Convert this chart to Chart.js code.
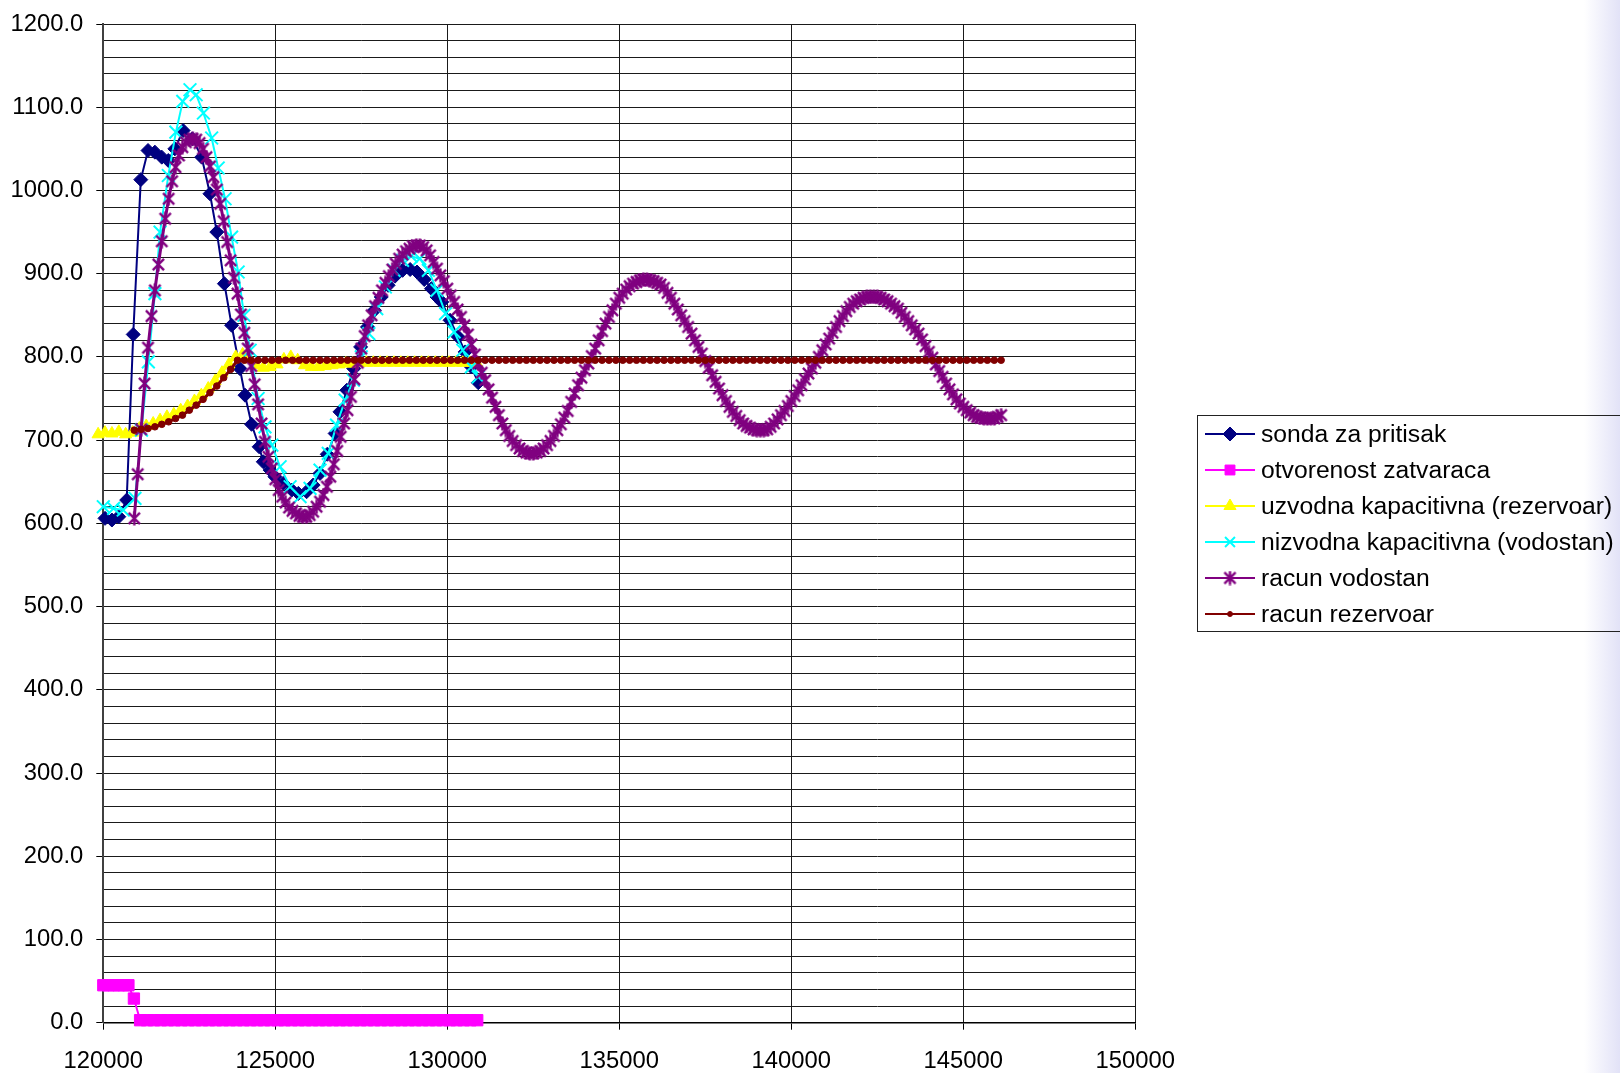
<!DOCTYPE html>
<html>
<head>
<meta charset="utf-8">
<script src="https://cdn.jsdelivr.net/npm/chart.js@4.4.1/dist/chart.umd.min.js"></script>
<style>
html, body { margin: 0; padding: 0; }
body {
  width: 1620px; height: 1073px; overflow: hidden;
  background: linear-gradient(to right, #ffffff 0, #ffffff 1584px, #e2e2f7 1620px);
}
canvas { display: block; }
</style>
</head>
<body>
<canvas id="c" width="1620" height="1073"></canvas>
<script>
// ---- measured series (time, value) ----
const sondaT = [120050,120250,120450,120680,120870,121090,121300,121500,121700,121890,
  122080,122320,122590,122860,123100,123300,123520,123730,123970,124120,
  124310,124530,124650,124850,124990,125230,125480,125670,125910,126100,
  126300,126510,126740,126880,127080,127280,127480,127680,127880,128080,
  128280,128480,128700,128920,129120,129330,129540,129700,129840,130080,
  130320,130520,130700,130900];
const sondaV = [606,604,608,628,827,1013,1048,1046,1040,1036,
  1050,1072,1062,1040,996,950,888,838,786,754,
  719,692,674,664,656,648,640,636,638,646,
  660,683,708,734,760,786,812,836,856,872,
  886,897,904,905,902,893,882,872,866,844,
  824,806,788,769];

const zatvT = [120000,120150,120300,120450,120600,120730,120890,
  121070,121270,121470,121670,121870,122070,122270,122470,122670,122870,
  123070,123270,123470,123670,123870,124070,124270,124470,124670,124870,
  125070,125270,125470,125670,125870,126070,126270,126470,126670,126870,
  127070,127270,127470,127670,127870,128070,128270,128470,128670,128870,
  129070,129270,129470,129670,129870,130070,130270,130470,130670,130870];
const zatvV = [45,45,45,45,45,45,29,
  3,3,3,3,3,3,3,3,3,3,
  3,3,3,3,3,3,3,3,3,3,
  3,3,3,3,3,3,3,3,3,3,
  3,3,3,3,3,3,3,3,3,3,
  3,3,3,3,3,3,3,3,3,3];

const uzvT = [119850,120050,120250,120450,120650,120850,121050,121250,121450,121650,
  121850,122050,122250,122450,122650,122850,123050,123250,123450,123650,
  123850,124050,124250,124450,124650,124850,125050,125250,125450,125650,
  125850,126050,126250,126450,126650,126850,127050,127250,127450,127650,
  127850,128050,128250,128450,128650,128850,129050,129250,129450,129650,
  129850,130050,130250,130450,130650,130850];
const uzvV = [707,709,708,710,707,709,714,717,720,724,
  728,731,736,741,747,754,762,771,781,791,
  800,803,797,790,787,788,791,797,800,796,
  790,788,788,789,790,791,792,792,793,793,
  793,793,793,793,793,793,793,793,793,793,
  793,793,793,793,793,793];

const nizT = [120000,120300,120580,120920,121110,121310,121500,121650,121890,122110,
  122310,122520,122700,122910,123150,123340,123540,123730,123920,124090,
  124270,124500,124700,124900,125140,125430,125720,126010,126300,126540,
  126780,127030,127270,127500,127720,127950,128200,128450,128700,128950,
  129200,129450,129700,129950,130200,130450,130700,130900];
const nizV = [620,618,616,630,712,794,876,950,1018,1070,
  1107,1121,1115,1093,1063,1027,990,944,902,850,
  808,750,716,694,668,644,632,642,664,684,
  718,748,772,800,828,858,884,904,916,921,
  918,904,880,852,830,808,788,776];

const racVodT = [
  120900,121000,121100,121200,121300,121400,121500,121600,121700,121800,
  121900,122000,122100,122200,122300,122400,122500,122600,122700,122800,
  122900,123000,123100,123200,123300,123400,123500,123600,123700,123800,
  123900,124000,124100,124200,124300,124400,124500,124600,124700,124800,
  124900,125000,125100,125200,125300,125400,125500,125600,125700,125800,
  125900,126000,126100,126200,126300,126400,126500,126600,126700,126800,
  126900,127000,127100,127200,127300,127400,127500,127600,127700,127800,
  127900,128000,128100,128200,128300,128400,128500,128600,128700,128800,
  128900,129000,129100,129200,129300,129400,129500,129600,129700,129800,
  129900,130000,130100,130200,130300,130400,130500,130600,130700,130800,
  130900,131000,131100,131200,131300,131400,131500,131600,131700,131800,
  131900,132000,132100,132200,132300,132400,132500,132600,132700,132800,
  132900,133000,133100,133200,133300,133400,133500,133600,133700,133800,
  133900,134000,134100,134200,134300,134400,134500,134600,134700,134800,
  134900,135000,135100,135200,135300,135400,135500,135600,135700,135800,
  135900,136000,136100,136200,136300,136400,136500,136600,136700,136800,
  136900,137000,137100,137200,137300,137400,137500,137600,137700,137800,
  137900,138000,138100,138200,138300,138400,138500,138600,138700,138800,
  138900,139000,139100,139200,139300,139400,139500,139600,139700,139800,
  139900,140000,140100,140200,140300,140400,140500,140600,140700,140800,
  140900,141000,141100,141200,141300,141400,141500,141600,141700,141800,
  141900,142000,142100,142200,142300,142400,142500,142600,142700,142800,
  142900,143000,143100,143200,143300,143400,143500,143600,143700,143800,
  143900,144000,144100,144200,144300,144400,144500,144600,144700,144800,
  144900,145000,145100,145200,145300,145400,145500,145600,145700,145800,
  145900,146000,146100];
const racVodV = [
  606,659,713,768,811,849,880,911,939,966,
  990,1011,1028,1042,1052,1058,1061,1062,1061,1057,
  1050,1040,1029,1016,1001,984,963,938,916,895,
  876,851,829,810,789,767,743,720,698,680,
  666,653,640,632,625,619,615,612,609,608,
  608,610,614,620,626,634,644,656,671,687,
  704,720,736,752,773,793,810,825,838,850,
  861,871,880,889,897,905,912,918,923,927,
  930,933,934,934,932,928,922,914,906,898,
  891,882,874,866,857,848,838,827,815,803,
  792,781,772,761,751,740,730,720,712,705,
  699,694,690,687,685,684,684,685,687,690,
  694,699,705,712,719,727,735,746,756,766,
  775,784,792,801,810,820,831,840,848,856,
  864,871,876,881,885,888,890,892,893,893,
  892,891,889,887,883,877,871,864,857,850,
  843,836,828,820,812,804,795,787,778,770,
  762,754,747,740,734,729,724,720,717,715,
  713,712,712,712,713,716,720,725,730,735,
  741,747,753,760,766,773,780,786,793,800,
  808,815,822,829,836,843,849,855,860,864,
  867,869,871,872,872,872,872,871,869,867,
  864,861,858,853,848,843,838,833,828,821,
  813,806,799,791,783,776,768,761,755,749,
  744,740,736,733,730,728,727,726,726,726,
  726,728,730];

const racRezT = [120900,121100,121300,121500,121700,121900,122100,122300,122500,122700,
  122900,123100,123300,123500,123700,123900,124100,124300,124500,124700,
  124900,125100,125300,125500,125700,125900,126100,126300,126500,126700,
  126900,127100,127300,127500,127700,127900,128100,128300,128500,128700,
  128900,129100,129300,129500,129700,129900,130100,130300,130500,130700,
  130900,131100,131300,131500,131700,131900,132100,132300,132500,132700,
  132900,133100,133300,133500,133700,133900,134100,134300,134500,134700,
  134900,135100,135300,135500,135700,135900,136100,136300,136500,136700,
  136900,137100,137300,137500,137700,137900,138100,138300,138500,138700,
  138900,139100,139300,139500,139700,139900,140100,140300,140500,140700,
  140900,141100,141300,141500,141700,141900,142100,142300,142500,142700,
  142900,143100,143300,143500,143700,143900,144100,144300,144500,144700,
  144900,145100,145300,145500,145700,145900,146100];
const racRezV = [712,713,714,716,719,722,726,730,736,742,
  749,757,765,775,785,796,796,796,796,796,
  796,796,796,796,796,796,796,796,796,796,
  796,796,796,796,796,796,796,796,796,796,
  796,796,796,796,796,796,796,796,796,796,
  796,796,796,796,796,796,796,796,796,796,
  796,796,796,796,796,796,796,796,796,796,
  796,796,796,796,796,796,796,796,796,796,
  796,796,796,796,796,796,796,796,796,796,
  796,796,796,796,796,796,796,796,796,796,
  796,796,796,796,796,796,796,796,796,796,
  796,796,796,796,796,796,796,796,796,796,
  796,796,796,796,796,796,796];

const xTickStep = 5000;
const yMajorStep = 100;
const yMinorStep = 20;

const FONT = '"Liberation Sans", Arial, sans-serif';

function pairs(ts, vs) { return ts.map((t, i) => ({ x: t, y: vs[i] })); }

// asterisk marker: an "x" with a vertical stroke through it
function asteriskMarker(color, size, lw) {
  const c = document.createElement('canvas');
  c.width = size; c.height = size;
  const g = c.getContext('2d');
  g.strokeStyle = color; g.lineWidth = lw;
  const m = size / 2, r = size / 2 - 0.5, d = r * 0.8;
  g.beginPath();
  g.moveTo(m, m - r); g.lineTo(m, m + r);
  g.moveTo(m - d, m - d); g.lineTo(m + d, m + d);
  g.moveTo(m + d, m - d); g.lineTo(m - d, m + d);
  g.stroke();
  return c;
}

const starImg = asteriskMarker('#800080', 15, 2.4);

const datasets = [
  { label: 'sonda za pritisak', data: pairs(sondaT, sondaV), borderColor: '#000080', borderWidth: 2,
    pointStyle: 'rectRot', pointRadius: 7, pointBackgroundColor: '#000080', pointBorderColor: '#000080', pointBorderWidth: 1, order: 5 },
  { label: 'otvorenost zatvaraca', data: pairs(zatvT, zatvV), borderColor: '#FF00FF', borderWidth: 2,
    pointStyle: 'rect', pointRadius: 8, pointBackgroundColor: '#FF00FF', pointBorderColor: '#FF00FF', pointBorderWidth: 1, order: 4 },
  { label: 'uzvodna kapacitivna (rezervoar)', data: pairs(uzvT, uzvV), borderColor: '#FFFF00', borderWidth: 2,
    pointStyle: 'triangle', pointRadius: 7, pointBackgroundColor: '#FFFF00', pointBorderColor: '#FFFF00', pointBorderWidth: 1, order: 3 },
  { label: 'nizvodna kapacitivna (vodostan)', data: pairs(nizT, nizV), borderColor: '#00FFFF', borderWidth: 2,
    pointStyle: 'crossRot', pointRadius: 9, pointBackgroundColor: '#00FFFF', pointBorderColor: '#00FFFF', pointBorderWidth: 2, order: 2 },
  { label: 'racun vodostan', data: pairs(racVodT, racVodV), borderColor: '#800080', borderWidth: 3,
    pointStyle: starImg, pointRadius: 7, pointBackgroundColor: '#800080', pointBorderColor: '#800080', pointBorderWidth: 2, order: 1 },
  { label: 'racun rezervoar', data: pairs(racRezT, racRezV), borderColor: '#800000', borderWidth: 3,
    pointStyle: 'circle', pointRadius: 3.3, pointBackgroundColor: '#800000', pointBorderColor: '#800000', pointBorderWidth: 1, order: 0 }
];
datasets.forEach(d => { d.clip = false; d.tension = 0; d.fill = false; d.pointHoverRadius = d.pointRadius; });

// boxed series key to the right of the plot
const seriesKey = {
  id: 'seriesKey',
  afterDraw(chart) {
    const ctx = chart.ctx;
    ctx.save();
    ctx.strokeStyle = '#222';
    ctx.lineWidth = 1;
    ctx.strokeRect(1197.5, 415.5, 460, 216);
    chart.data.datasets.forEach((ds, i) => {
      const y = 434 + i * 36;
      ctx.strokeStyle = ds.borderColor;
      ctx.lineWidth = 2;
      ctx.beginPath(); ctx.moveTo(1205, y); ctx.lineTo(1255, y); ctx.stroke();
      ctx.fillStyle = ds.pointBackgroundColor;
      ctx.strokeStyle = ds.pointBorderColor;
      ctx.lineWidth = ds.pointBorderWidth;
      const r = ds.pointStyle === 'circle' ? 2.5 : Math.min(ds.pointRadius, 7);
      if (Chart.helpers && Chart.helpers.drawPoint) {
        Chart.helpers.drawPoint(ctx, { pointStyle: ds.pointStyle, radius: r, borderWidth: ds.pointBorderWidth, rotation: 0 }, 1230, y);
      } else {
        ctx.beginPath(); ctx.arc(1230, y, r, 0, Math.PI * 2); ctx.fill();
      }
      ctx.fillStyle = '#000';
      ctx.font = '24.7px ' + FONT;
      ctx.textBaseline = 'middle';
      ctx.textAlign = 'left';
      ctx.fillText(ds.label, 1261, y + 1);
    });
    ctx.restore();
  }
};

new Chart(document.getElementById('c'), {
  type: 'line',
  data: { datasets },
  plugins: [seriesKey],
  options: {
    responsive: false,
    animation: false,
    devicePixelRatio: 1,
    layout: { autoPadding: false, padding: { left: 0, top: 24, right: 484.7, bottom: 0 } },
    plugins: { legend: { display: false }, tooltip: { enabled: false } },
    scales: {
      x: {
        type: 'linear', min: 120000, max: 150000,
        ticks: { stepSize: xTickStep, autoSkip: false, maxRotation: 0, padding: 17, color: '#000',
                 font: { family: FONT, size: 23.8 }, callback: v => String(v) },
        grid: { color: '#1a1a1a', lineWidth: 1, tickLength: 7, tickColor: '#000' },
        border: { color: '#000', width: 1.5 },
        afterFit(s) { s.height = 50.3; }
      },
      y: {
        min: 0, max: 1200,
        ticks: { stepSize: yMinorStep, autoSkip: false, padding: 13, color: '#000',
                 font: { family: FONT, size: 23.8 },
                 callback: v => (v % yMajorStep === 0 ? v.toFixed(1) : '') },
        grid: { color: '#1a1a1a', lineWidth: 1, tickLength: 7,
                tickColor: c => (c.tick && c.tick.value % yMajorStep === 0) ? '#000' : 'rgba(0,0,0,0)' },
        border: { color: '#404040', width: 2 },
        afterFit(s) { s.width = 103.3; s.paddingTop = 0; s.paddingBottom = 0; }
      }
    }
  }
});
</script>
</body>
</html>
